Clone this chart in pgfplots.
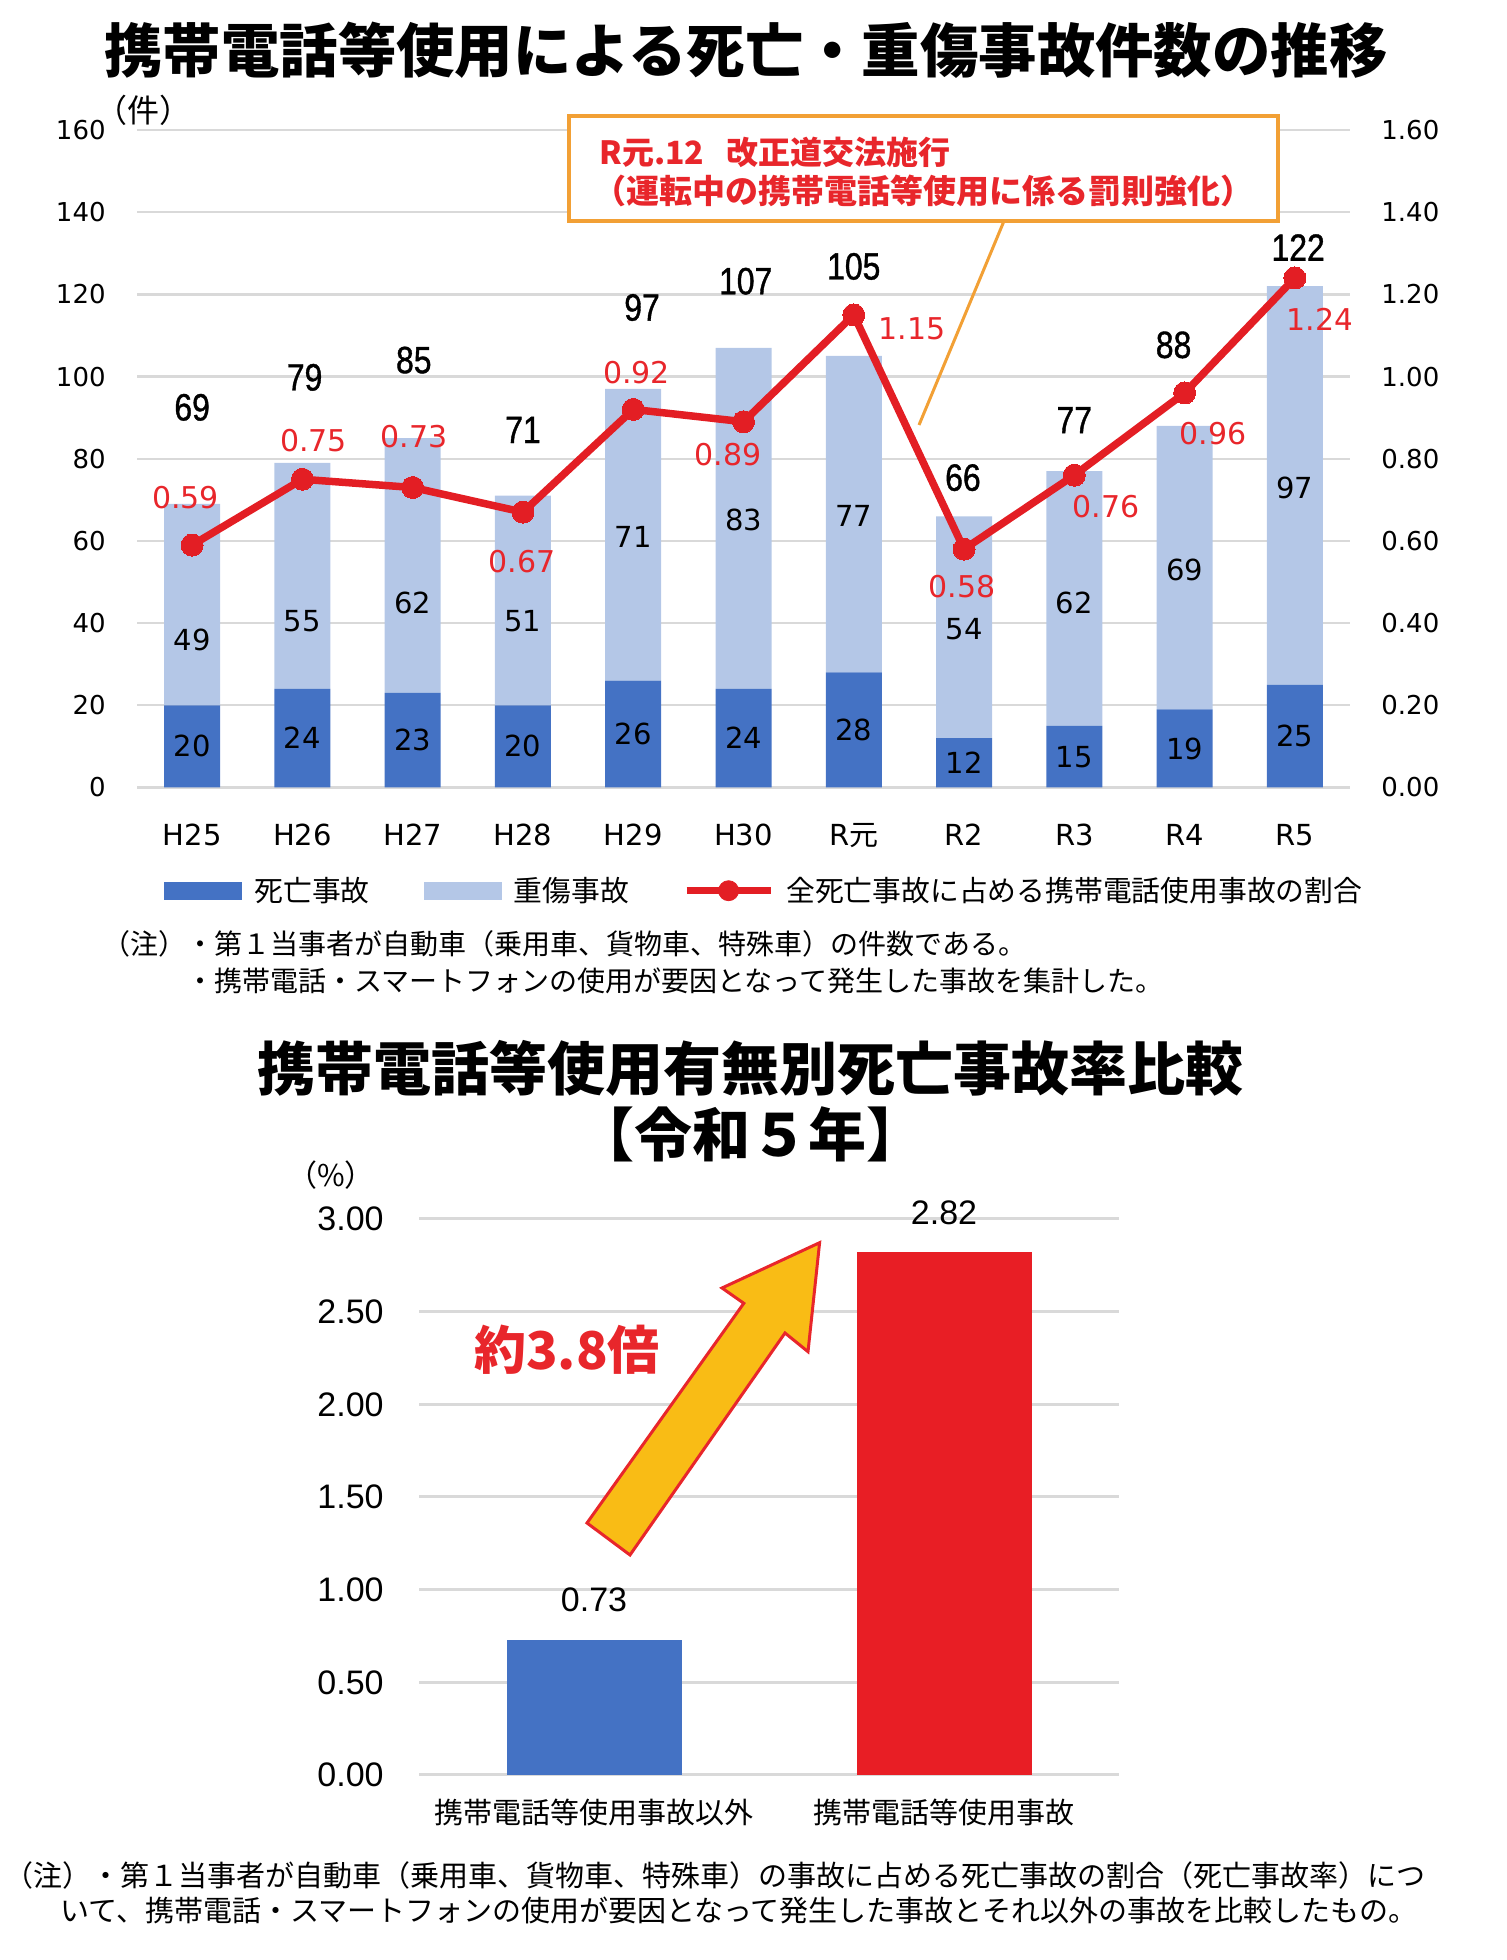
\documentclass[border=0pt]{standalone}
\usepackage{fontspec}
\usepackage{pgfplots}
\pgfplotsset{compat=1.18}
\setmainfont{DejaVu Sans}
\newfontfamily\jp{Noto Sans CJK JP}
\newfontfamily\lib{Liberation Sans}
\newfontfamily\narrow[FakeStretch=0.84, FakeBold=1]{Liberation Sans}
\definecolor{dblue}{HTML}{4472C4}
\definecolor{lblue}{HTML}{B4C7E7}
\definecolor{lred}{HTML}{E31E24}
\definecolor{tred}{HTML}{E8262B}
\definecolor{obox}{HTML}{F2A035}
\definecolor{gridc}{HTML}{D9D9D9}
\definecolor{arrowy}{HTML}{F9BC15}
\definecolor{bred}{HTML}{E81E25}
\tikzset{
  dlab/.style={font=\fontsize{14.5}{14.5}\selectfont},
  tlab/.style={font=\narrow\fontsize{19}{19}\selectfont},
  rlab/.style={text=tred, font=\fontsize{15}{15}\selectfont},
}

\begin{document}
\begin{tikzpicture}
\path[use as bounding box] (0pt,0pt) rectangle (753pt,980pt);
% top title
\node[font=\jp\bfseries\fontsize{29.2}{30}\selectfont, inner sep=0] at (373pt,955pt) {携帯電話等使用による死亡・重傷事故件数の推移};
\node[font=\jp\fontsize{16}{16}\selectfont, inner sep=0] at (71.5pt,925pt) {（件）};

\begin{axis}[
  at={(68.5pt,586.25pt)}, anchor=south west,
  width=606.5pt, height=328.75pt, scale only axis,
  xmin=-0.5, xmax=10.5, ymin=0, ymax=160,
  ybar stacked, bar width=28pt,
  xtick={0,1,2,3,4,5,6,7,8,9,10},
  xticklabels={H25,H26,H27,H28,H29,H30,R{\jp 元},R2,R3,R4,R5},
  ytick={0,20,40,60,80,100,120,140,160},
  axis line style={draw=none},
  major tick length=0pt,
  ymajorgrids, grid style={gridc, line width=1.2pt},
  /pgf/number format/assume math mode=true,
  yticklabel style={anchor=east, inner sep=0pt, xshift=-15.5pt, font=\fontsize{13}{13}\selectfont},
  xticklabel style={anchor=base, inner sep=0pt, yshift=-28.85pt, font=\fontsize{14.5}{14.5}\selectfont},
  legend columns=3,
  legend cell align=left,
  legend style={draw=none, fill=none, at={(0.0223,-0.157)}, anchor=west, inner sep=0pt,
    font=\jp\fontsize{14.4}{14.4}\selectfont,
    /tikz/every odd column/.append style={column sep=4pt},
    /tikz/every even column/.append style={column sep=25pt}},
]
\addplot[fill=dblue, draw=none,
  legend image code/.code={\fill[dblue] (0pt,-4.4pt) rectangle (39pt,4.4pt);}]
  coordinates {(0,20) (1,24) (2,23) (3,20) (4,26) (5,24) (6,28) (7,12) (8,15) (9,19) (10,25)};
\addlegendentry{死亡事故}
\addplot[fill=lblue, draw=none,
  legend image code/.code={\fill[lblue] (0pt,-4.4pt) rectangle (39pt,4.4pt);}]
  coordinates {(0,49) (1,55) (2,62) (3,51) (4,71) (5,83) (6,77) (7,54) (8,62) (9,69) (10,97)};
\addlegendentry{重傷事故}
\addlegendimage{legend image code/.code={\draw[lred, line width=3.75pt] (0pt,0pt) -- (42pt,0pt); \fill[lred] (21pt,0pt) circle (5pt);}}
\addlegendentry{全死亡事故に占める携帯電話使用事故の割合}

\node[tlab] at (axis cs:0,92.5) {69};
\node[tlab] at (axis cs:1.02,99.8) {79};
\node[tlab] at (axis cs:2.01,104) {85};
\node[tlab] at (axis cs:3,87) {71};
\node[tlab] at (axis cs:4.08,116.8) {97};
\node[tlab] at (axis cs:5.02,123.2) {107};
\node[tlab] at (axis cs:6,126.8) {105};
\node[tlab] at (axis cs:6.99,75.4) {66};
\node[tlab] at (axis cs:8,89.4) {77};
\node[tlab] at (axis cs:8.9,107.7) {88};
\node[tlab] at (axis cs:10.03,131.4) {122};
\end{axis}

\begin{axis}[
  at={(68.5pt,586.25pt)}, anchor=south west,
  width=606.5pt, height=328.75pt, scale only axis,
  xmin=-0.5, xmax=10.5, ymin=0, ymax=1.6,
  axis y line*=right, axis x line=none,
  axis line style={draw=none},
  major tick length=0pt,
  ytick={0,0.2,0.4,0.6,0.8,1.0,1.2,1.4,1.6},
  /pgf/number format/assume math mode=true,
  yticklabel style={anchor=west, inner sep=0pt, xshift=15.5pt, font=\fontsize{13}{13}\selectfont,
    /pgf/number format/fixed, /pgf/number format/fixed zerofill, /pgf/number format/precision=2},
]
% bar value labels (in this axis 1 count = 0.01)
\node[dlab] at (axis cs:0,0.10) {20};
\node[dlab] at (axis cs:1,0.12) {24};
\node[dlab] at (axis cs:2,0.115) {23};
\node[dlab] at (axis cs:3,0.10) {20};
\node[dlab] at (axis cs:4,0.13) {26};
\node[dlab] at (axis cs:5,0.12) {24};
\node[dlab] at (axis cs:6,0.14) {28};
\node[dlab] at (axis cs:7,0.06) {12};
\node[dlab] at (axis cs:8,0.075) {15};
\node[dlab] at (axis cs:9,0.095) {19};
\node[dlab] at (axis cs:10,0.125) {25};
\node[dlab] at (axis cs:0,0.36) {49};
\node[dlab] at (axis cs:1,0.405) {55};
\node[dlab] at (axis cs:2,0.45) {62};
\node[dlab] at (axis cs:3,0.405) {51};
\node[dlab] at (axis cs:4,0.61) {71};
\node[dlab] at (axis cs:5,0.65) {83};
\node[dlab] at (axis cs:6,0.66) {77};
\node[dlab] at (axis cs:7,0.386) {54};
\node[dlab] at (axis cs:8,0.45) {62};
\node[dlab] at (axis cs:9,0.53) {69};
\node[dlab] at (axis cs:10,0.73) {97};
\addplot[lred, line width=3.75pt, mark=*, mark size=5.5pt, mark options={fill=lred, draw=lred, line width=0pt}]
  coordinates {(0,0.59) (1,0.75) (2,0.73) (3,0.67) (4,0.92) (5,0.89) (6,1.15) (7,0.58) (8,0.76) (9,0.96) (10,1.24)};
\node[rlab] at (axis cs:-0.06,0.706) {0.59};
\node[rlab] at (axis cs:1.1,0.843) {0.75};
\node[rlab] at (axis cs:2.01,0.855) {0.73};
\node[rlab] at (axis cs:2.99,0.55) {0.67};
\node[rlab] at (axis cs:4.03,1.01) {0.92};
\node[rlab] at (axis cs:4.86,0.809) {0.89};
\node[rlab] at (axis cs:6.53,1.116) {1.15};
\node[rlab] at (axis cs:6.98,0.49) {0.58};
\node[rlab] at (axis cs:8.29,0.684) {0.76};
\node[rlab] at (axis cs:9.26,0.86) {0.96};
\node[rlab] at (axis cs:10.23,1.14) {1.24};
\end{axis}

% annotation
\draw[obox, line width=1.5pt] (502pt,869.5pt) -- (459.5pt,767.5pt);
\draw[obox, line width=1.9pt, fill=white] (284.5pt,869.5pt) rectangle (639pt,922pt);
\node[anchor=west, text=tred, font=\jp\bfseries\fontsize{16}{16}\selectfont, inner sep=0] at (299.5pt,903.75pt) {R元.12\hspace{0.7em}改正道交法施行};
\node[text=tred, font=\jp\bfseries\fontsize{16.5}{16.5}\selectfont, inner sep=0] at (461.75pt,884.5pt) {（運転中の携帯電話等使用に係る罰則強化）};

% notes top
\node[anchor=west, inner sep=0, font=\jp\fontsize{14}{14}\selectfont] at (51pt,508pt) {（注）・第１当事者が自動車（乗用車、貨物車、特殊車）の件数である。};
\node[anchor=west, inner sep=0, font=\jp\fontsize{14}{14}\selectfont] at (93pt,489.5pt) {・携帯電話・スマートフォンの使用が要因となって発生した事故を集計した。};

% bottom title
\node[font=\jp\bfseries\fontsize{29}{29}\selectfont, inner sep=0] at (375pt,445.6pt) {携帯電話等使用有無別死亡事故率比較};
\node[font=\jp\bfseries\fontsize{29}{29}\selectfont, inner sep=0] at (375pt,413pt) {【令和５年】};
\node[font=\jp\fontsize{15}{15}\selectfont, inner sep=0] at (165.5pt,392.5pt) {（\%）};

\begin{axis}[
  at={(209.5pt,92.5pt)}, anchor=south west,
  width=350pt, height=278pt, scale only axis, clip=false,
  xmin=-0.5, xmax=1.5, ymin=0, ymax=3,
  ybar, bar width=87.5pt,
  xtick={0,1}, xticklabels={携帯電話等使用事故以外, 携帯電話等使用事故},
  ytick={0,0.5,1,1.5,2,2.5,3},
  axis line style={draw=none}, major tick length=0pt,
  ymajorgrids, grid style={gridc, line width=1.5pt},
  /pgf/number format/assume math mode=true,
  yticklabel style={anchor=east, inner sep=0pt, xshift=-17.5pt, font=\lib\fontsize{17}{17}\selectfont,
    /pgf/number format/fixed, /pgf/number format/fixed zerofill, /pgf/number format/precision=2},
  xticklabel style={anchor=center, inner sep=0pt, yshift=-18.75pt, font=\jp\fontsize{14.5}{14.5}\selectfont},
]
\addplot[fill=dblue, draw=none, bar shift=0pt] coordinates {(0,0.73)};
\addplot[fill=bred, draw=none, bar shift=0pt] coordinates {(1,2.82)};
\node[font=\lib\fontsize{17}{17}\selectfont, yshift=20pt] at (axis cs:0,0.73) {0.73};
\node[font=\lib\fontsize{17}{17}\selectfont, yshift=20pt] at (axis cs:1,2.82) {2.82};
\end{axis}

% arrow
\draw[tred, line width=1.5pt, fill=arrowy, line join=miter] (409.8pt,358.65pt) -- (361pt,336pt) -- (371.9pt,328.35pt) -- (293.5pt,218.5pt) -- (315pt,202.5pt) -- (392.5pt,313.5pt) -- (404pt,304.15pt) -- cycle;
\node[text=tred, font=\jp\bfseries\fontsize{26}{26}\selectfont, inner sep=0] at (283.5pt,305pt) {約3.8倍};

% bottom notes
\node[anchor=west, inner sep=0, font=\jp\fontsize{14.5}{14.5}\selectfont] at (2pt,42.5pt) {（注）・第１当事者が自動車（乗用車、貨物車、特殊車）の事故に占める死亡事故の割合（死亡事故率）につ};
\node[anchor=west, inner sep=0, font=\jp\fontsize{14.5}{14.5}\selectfont] at (30pt,25pt) {いて、携帯電話・スマートフォンの使用が要因となって発生した事故とそれ以外の事故を比較したもの。};
\end{tikzpicture}
\end{document}
